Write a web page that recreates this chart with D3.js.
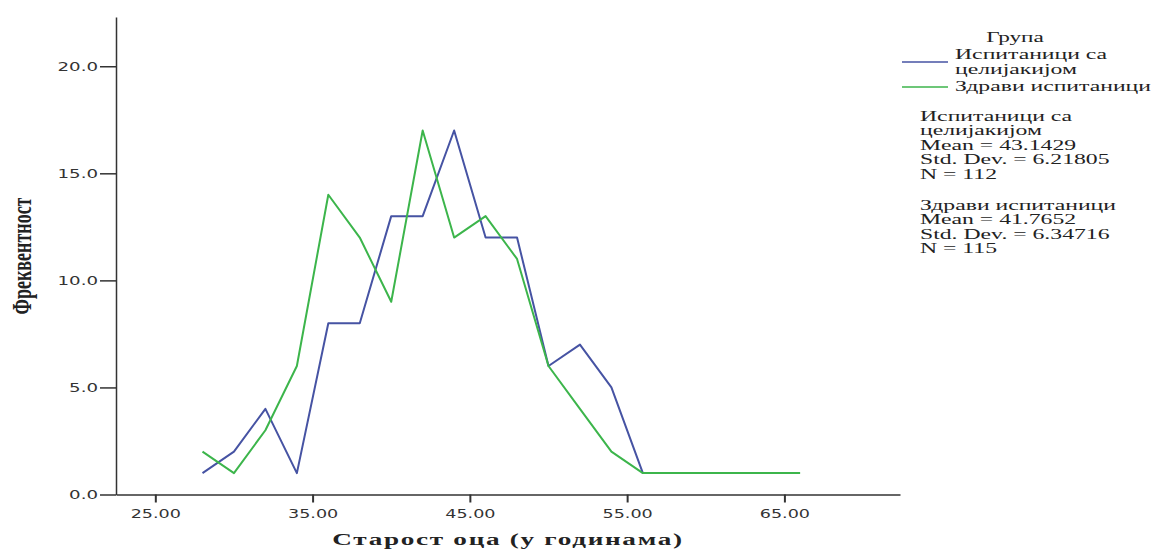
<!DOCTYPE html>
<html>
<head>
<meta charset="utf-8">
<script src="https://d3js.org/d3.v7.min.js"></script>
<style>
  body { margin: 0; background: #fff; }
  svg { display: block; }
</style>
</head>
<body>
<div id="chart"></div>
<script>
// ages (x) and frequencies (y) for each group
const ageCeliac = [28, 30, 32, 34, 36, 38, 40, 42, 44, 46, 48, 50, 52, 54, 56, 60, 62];
const freqCeliac = [1, 2, 4, 1, 8, 8, 13, 13, 17, 12, 12, 6, 7, 5, 1, 1, 1];
const ageHealthy = [28, 30, 32, 34, 36, 38, 40, 42, 44, 46, 48, 50, 52, 54, 56, 62, 66];
const freqHealthy = [2, 1, 3, 6, 14, 12, 9, 17, 12, 13, 11, 6, 4, 2, 1, 1, 1];

const legendLines = [["Испитаници са", "целијакијом"], ["Здрави испитаници"]];
const statsLines = [
  ["Испитаници са", "целијакијом", "Mean = 43.1429", "Std. Dev. = 6.21805", "N = 112"],
  ["Здрави испитаници", "Mean = 41.7652", "Std. Dev. = 6.34716", "N = 115"]
];
const xTicks = [25, 35, 45, 55, 65];
const yTicks = [0, 5, 10, 15, 20];
const colors = ["#4653a3", "#3cb54b"];

const width = 1172;
const height = 549;

const svg = d3.select("#chart")
  .append("svg")
  .attr("width", width)
  .attr("height", height);

const x = d3.scaleLinear().domain([22.5, 72.35]).range([116, 900]);
const y = d3.scaleLinear().domain([0, 22.3]).range([494.5, 17]);

// y axis
const yAxis = svg.append("g")
  .attr("transform", "translate(116,0)")
  .call(d3.axisLeft(y).tickValues(yTicks).tickFormat(d3.format(".1f")).tickSize(16).tickSizeOuter(0));
yAxis.select(".domain").attr("stroke", "#333").attr("stroke-width", 1.5);
yAxis.selectAll(".tick line").attr("stroke", "#333").attr("stroke-width", 1.5);
yAxis.selectAll(".tick text")
  .attr("x", 0)
  .attr("transform", "translate(-18,0) scale(1.4,1)")
  .attr("fill", "#333")
  .style("font-family", "DejaVu Sans")
  .style("font-size", "13px");

// x axis
const xAxis = svg.append("g")
  .attr("transform", "translate(0,494.5)")
  .call(d3.axisBottom(x).tickValues(xTicks).tickFormat(d3.format(".2f")).tickSize(8).tickSizeOuter(0));
xAxis.select(".domain").attr("stroke", "#333").attr("stroke-width", 1.5);
xAxis.selectAll(".tick line").attr("stroke", "#333").attr("stroke-width", 2);
xAxis.selectAll(".tick text")
  .attr("y", 0)
  .attr("dy", 0)
  .attr("transform", "translate(0,23) scale(1.35,1)")
  .attr("fill", "#333")
  .style("font-family", "DejaVu Sans")
  .style("font-size", "13px");

// axis titles
svg.append("text")
  .attr("transform", "translate(508,545) scale(1.7,1)")
  .attr("text-anchor", "middle")
  .style("font-family", "Liberation Serif")
  .style("font-weight", "bold")
  .style("font-size", "16px")
  .style("letter-spacing", "1px")
  .attr("fill", "#222")
  .text("Старост оца (у годинама)");

svg.append("text")
  .attr("transform", "translate(31,256) rotate(-90) scale(1,1.5)")
  .attr("text-anchor", "middle")
  .style("font-family", "Liberation Serif")
  .style("font-weight", "bold")
  .style("font-size", "18px")
  .attr("fill", "#222")
  .text("Фреквентност");

// lines
const series = [
  { ages: ageCeliac, freqs: freqCeliac },
  { ages: ageHealthy, freqs: freqHealthy }
];
const line = d3.line().x(d => x(d[0])).y(d => y(d[1]));
series.forEach((s, i) => {
  svg.append("path")
    .datum(d3.zip(s.ages, s.freqs))
    .attr("fill", "none")
    .attr("stroke", colors[i])
    .attr("stroke-width", 2)
    .attr("stroke-linejoin", "round")
    .attr("d", line);
});

// legend
const serif = t => t
  .style("font-family", "Liberation Serif")
  .style("font-size", "15px")
  .attr("fill", "#222");

svg.append("text")
  .attr("transform", "translate(1015,42) scale(1.55,1)")
  .attr("text-anchor", "middle")
  .call(serif)
  .text("Група");

const legendY = [62, 87];
legendLines.forEach((lines, i) => {
  svg.append("line")
    .attr("x1", 902).attr("x2", 948)
    .attr("y1", legendY[i]).attr("y2", legendY[i])
    .attr("stroke", colors[i])
    .attr("stroke-width", 1.5);
  const top = legendY[i] + 4 - (lines.length - 1) * 7.5;
  lines.forEach((t, j) => {
    svg.append("text")
      .attr("transform", `translate(955,${top + j * 15}) scale(1.58,1)`)
      .call(serif)
      .text(t);
  });
});

// stats blocks
const statsTop = [121, 210];
statsLines.forEach((lines, i) => {
  lines.forEach((t, j) => {
    svg.append("text")
      .attr("transform", `translate(920,${statsTop[i] + j * 14.4}) scale(1.58,1)`)
      .call(serif)
      .text(t);
  });
});
</script>
</body>
</html>
